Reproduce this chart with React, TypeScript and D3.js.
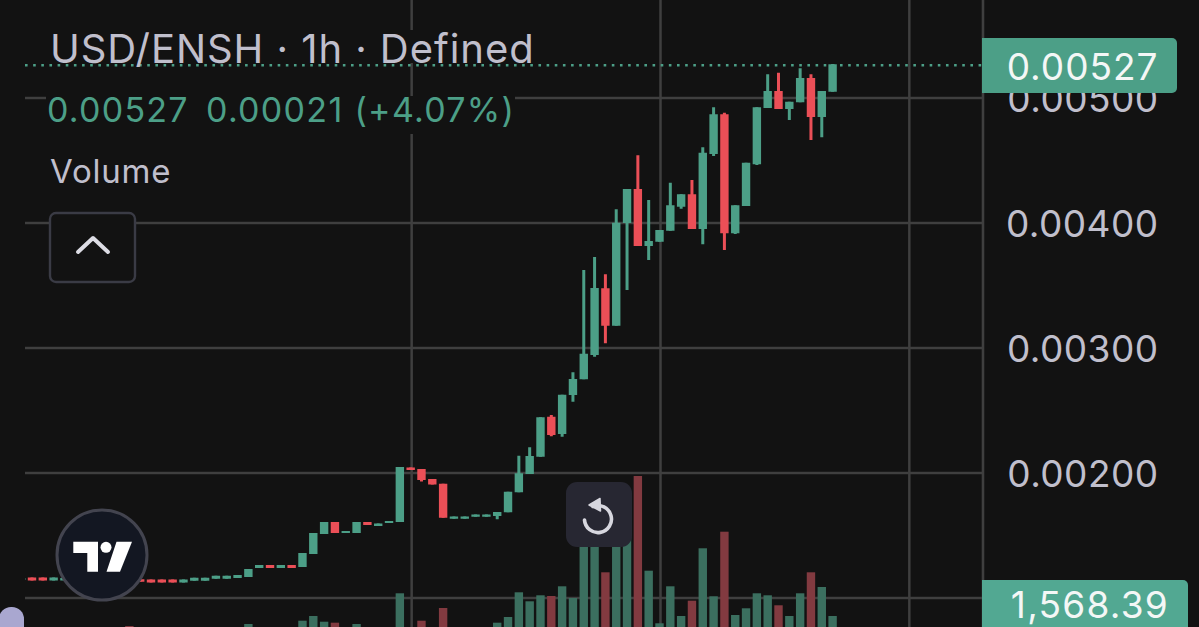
import React from 'react'
import * as d3 from 'd3'

const FONT = 'Inter, "Noto Sans", sans-serif'

// candle values, in units of 0.00001 USD. first entry is the clipped stub at the left edge
const opens = [114.4, 116.4, 116.4, 114, 114, 116, 114, 116, 115.5, 113.5, 115.5, 115, 114.8, 114.8, 114.8, 112.4, 113.8, 113.8, 115.4, 115.4, 116, 116.8, 124, 126.4, 124, 126.4, 124.8, 135.2, 151.2, 160.8, 152, 152, 160.8, 157.6, 160, 160.8, 204.4, 203.2, 195.2, 191.4, 163.4, 163.4, 165, 165, 165.6, 168.6, 184.6, 199.2, 213, 245, 231.2, 262.4, 275, 294.4, 347.8, 317.8, 400, 427.2, 381.6, 385, 393.8, 413, 423, 395.2, 455.2, 487, 391.8, 413.6, 447, 492, 505.6, 491.2, 496.6, 516, 484.8, 505]
const closes = [116, 114, 114, 116.4, 116, 114, 116, 114, 113.5, 115.5, 113.5, 113, 112.4, 112.4, 112.4, 114.8, 116.2, 116.2, 117.8, 117.8, 118.4, 123.2, 126.4, 124, 126.4, 124, 136, 152, 160.8, 152, 153.6, 160.8, 158.4, 159.6, 161.6, 204.8, 202.4, 194.4, 190.8, 164.2, 165.2, 165.2, 166.8, 166.8, 168.8, 185, 199.8, 213.6, 244.6, 230.4, 262.6, 275.2, 295.4, 348, 317.8, 400.2, 427.2, 381.6, 385.6, 394.4, 414.2, 423, 395.2, 456.2, 487, 391.8, 414.2, 448.2, 492.6, 505.6, 491.2, 497, 516, 484.8, 505.6, 527]
const highs = [116, 116.4, 116.4, 116.4, 116, 116, 116, 116, 115.5, 115.5, 115.5, 115, 114.8, 114.8, 114.8, 114.8, 116.2, 116.2, 117.8, 117.8, 118.4, 123.2, 126.4, 126.4, 126.4, 126.4, 136, 152, 160.8, 160.8, 153.6, 160.8, 160.8, 159.6, 161.6, 204.8, 204.4, 203.2, 195.2, 191.4, 165.2, 165.2, 166.8, 166.8, 168.8, 185, 213.8, 220.6, 244.6, 246.4, 262.6, 280.6, 362.4, 372.8, 359, 411, 427.2, 454.2, 418.4, 394.4, 432.2, 423, 434.4, 460.6, 492.6, 488.2, 414.2, 448.2, 492.6, 519, 520.2, 497, 523.8, 519, 505.6, 527.2]
const lows = [114.4, 114, 114, 114, 114, 114, 114, 114, 113.5, 113.5, 113.5, 113, 112.4, 112.4, 112.4, 112.4, 113.8, 113.8, 115.4, 115.4, 116, 116.8, 124, 124, 124, 124, 124.8, 135.2, 151.2, 152, 152, 152, 158.4, 157.6, 160, 160.8, 202.4, 193.2, 190.8, 164.2, 163.4, 163.4, 165, 165, 163, 168.6, 184.6, 199.2, 213, 229.4, 229, 257, 275, 293, 303.8, 317.8, 346.4, 381.6, 370.4, 385, 393.8, 411.4, 395.2, 383, 453.6, 378.4, 391.2, 413.6, 446.4, 492, 491.2, 482.4, 496.6, 466.4, 468.6, 505]
const volumes = [500, 450, 600, 500, 420, 480, 520, 400, 560, 640, 915, 600, 450, 500, 620, 480, 530, 560, 600, 500, 650, 1046, 700, 620, 560, 640, 1261, 1568, 1196, 1131, 680, 1046, 720, 640, 700, 3052, 780, 1261, 760, 2091, 600, 520, 480, 560, 1131, 1503, 3117, 2529, 2921, 2875, 3509, 2745, 7842, 7515, 4424, 7189, 6862, 10717, 4529, 1091, 3509, 1568, 2568, 5993, 2856, 7077, 1634, 2072, 3052, 2921, 2268, 1568, 3052, 4424, 3464, 1568]

const priceTicks = [0.001, 0.002, 0.003, 0.004, 0.005]
const timeTicks = [35, 58, 81]
const lastPrice = 0.00527
const lastVolume = '1,568.39'
const titleText = 'USD/ENSH · 1h · Defined'
const legendPrice = '0.00527'
const legendChange = '0.00021 (+4.07%)'

const BG = '#121212'
const GRID = '#3f3f3f'
const UP = '#4c9f87'
const DOWN = '#eb4f57'
const VOL_UP = '#3b6f5f'
const VOL_DOWN = '#823a40'
const TEXT = '#c0bfcc'

function App() {
  const width = 1199
  const height = 627
  const plotLeft = 25
  const plotRight = 983

  const x = d3.scaleLinear().domain([0, 74]).range([32, 832.6])
  const y = d3.scaleLinear().domain([0.001, 0.005]).range([598, 98])
  const yVol = d3.scaleLinear().domain([0, 10717]).range([640, 476])
  const candleW = 8.4
  const wickW = 3

  return (
    <svg
      width={width}
      height={height}
      viewBox={`0 0 ${width} ${height}`}
      style={{ position: 'fixed', left: 0, top: 0, background: BG, fontFamily: FONT }}
    >
      <defs>
        <clipPath id="plot">
          <rect x={plotLeft} y={0} width={plotRight - plotLeft} height={height} />
        </clipPath>
      </defs>
      <rect width={width} height={height} fill={BG} />

      {/* grid */}
      {priceTicks.map(t => (
        <line key={t} x1={plotLeft} x2={plotRight} y1={y(t)} y2={y(t)} stroke={GRID} strokeWidth={2.5} />
      ))}
      {timeTicks.map(t => (
        <line key={t} x1={x(t) + 1} x2={x(t) + 1} y1={0} y2={height} stroke={GRID} strokeWidth={2.5} />
      ))}
      <line x1={plotRight} x2={plotRight} y1={0} y2={height} stroke={GRID} strokeWidth={2.6} />

      <g clipPath="url(#plot)">
        {/* volume */}
        {volumes.map((v, i) => (
          <rect
            key={i}
            x={x(i - 1) - candleW / 2}
            y={yVol(v)}
            width={candleW}
            height={yVol(0) - yVol(v)}
            fill={closes[i] >= opens[i] ? VOL_UP : VOL_DOWN}
          />
        ))}

        {/* candles */}
        {opens.map((o, i) => {
          const c = closes[i]
          const col = c >= o ? UP : DOWN
          const cx = x(i - 1)
          const top = y(Math.max(o, c) * 1e-5)
          const bottom = y(Math.min(o, c) * 1e-5)
          return (
            <g key={i} fill={col}>
              <rect x={cx - wickW / 2} y={y(highs[i] * 1e-5)} width={wickW} height={y(lows[i] * 1e-5) - y(highs[i] * 1e-5)} />
              <rect x={cx - candleW / 2} y={top} width={candleW} height={bottom - top} />
            </g>
          )
        })}
      </g>

      {/* legend, masks the grid behind the text */}
      <rect x={47} y={30} width={490} height={33} fill={BG} />
      <rect x={46} y={96} width={469} height={38} fill={BG} />
      <line
        x1={plotLeft}
        x2={plotRight}
        y1={y(lastPrice) + 1}
        y2={y(lastPrice) + 1}
        stroke={UP}
        strokeWidth={2.6}
        strokeDasharray="2.6 5.55"
      />
      <text x={50} y={63} fontSize={40} letterSpacing={0.95} fill={TEXT}>{titleText}</text>
      <text x={47} y={122} fontSize={34} letterSpacing={1.25} fill={UP}>{legendPrice}</text>
      <text x={206} y={122} fontSize={34} letterSpacing={1.3} fill={UP}>{legendChange}</text>
      <text x={50} y={183} fontSize={33} letterSpacing={0.8} fill={TEXT}>Volume</text>

      <rect x={50} y={213} width={85} height={69} rx={6} fill={BG} stroke="#3a3b45" strokeWidth={2.4} />
      <path d="M78 252 L93 238 L108 252" fill="none" stroke="#dcdce4" strokeWidth={4} strokeLinecap="round" strokeLinejoin="round" />

      {/* price axis */}
      {priceTicks.slice(1).map(t => (
        <text key={t} x={1158.5} y={y(t) + 13.5} textAnchor="end" fontSize={37} letterSpacing={0.45} fill={TEXT}>
          {t.toFixed(5)}
        </text>
      ))}

      <path d="M982 38 H1172 a5 5 0 0 1 5 5 V88 a5 5 0 0 1 -5 5 H982 Z" fill={UP} />
      <text x={1158.5} y={80} textAnchor="end" fontSize={37} letterSpacing={1} fill="#f4f7f6">{lastPrice.toFixed(5)}</text>
      <path d="M982 580 H1183 a5 5 0 0 1 5 5 V627 H982 Z" fill="#52a892" />
      <text x={1169} y={618} textAnchor="end" fontSize={37} letterSpacing={1.25} fill="#f4f7f6">{lastVolume}</text>

      {/* reset button */}
      <rect x={566} y={482} width={66} height={65} rx={11} fill="#272732" />
      <path
        d="M593 506.5 A13.5 13.5 0 1 1 584.5 520"
        fill="none"
        stroke="#d7d7df"
        strokeWidth={3.6}
        strokeLinecap="round"
      />
      <path d="M589 505 L600 498.5 L600.5 511 Z" fill="#d7d7df" stroke="#d7d7df" strokeWidth={1.5} strokeLinejoin="round" />

      {/* tradingview mark */}
      <circle cx={102} cy={555} r={45} fill="#131722" stroke="#43444f" strokeWidth={3} />
      <path d="M73.3 541.7 H98 V571.7 H87.3 V553 H73.3 Z" fill="#fff" />
      <circle cx={106} cy={547.3} r={5.5} fill="#fff" />
      <path d="M116.5 541.7 H132 L120 571.7 H106.5 Z" fill="#fff" />

      {/* scrollbar-ish blob at the corner */}
      <rect x={-1} y={607} width={25} height={50} rx={12} fill="#a9a7d0" />
    </svg>
  )
}

export default App
